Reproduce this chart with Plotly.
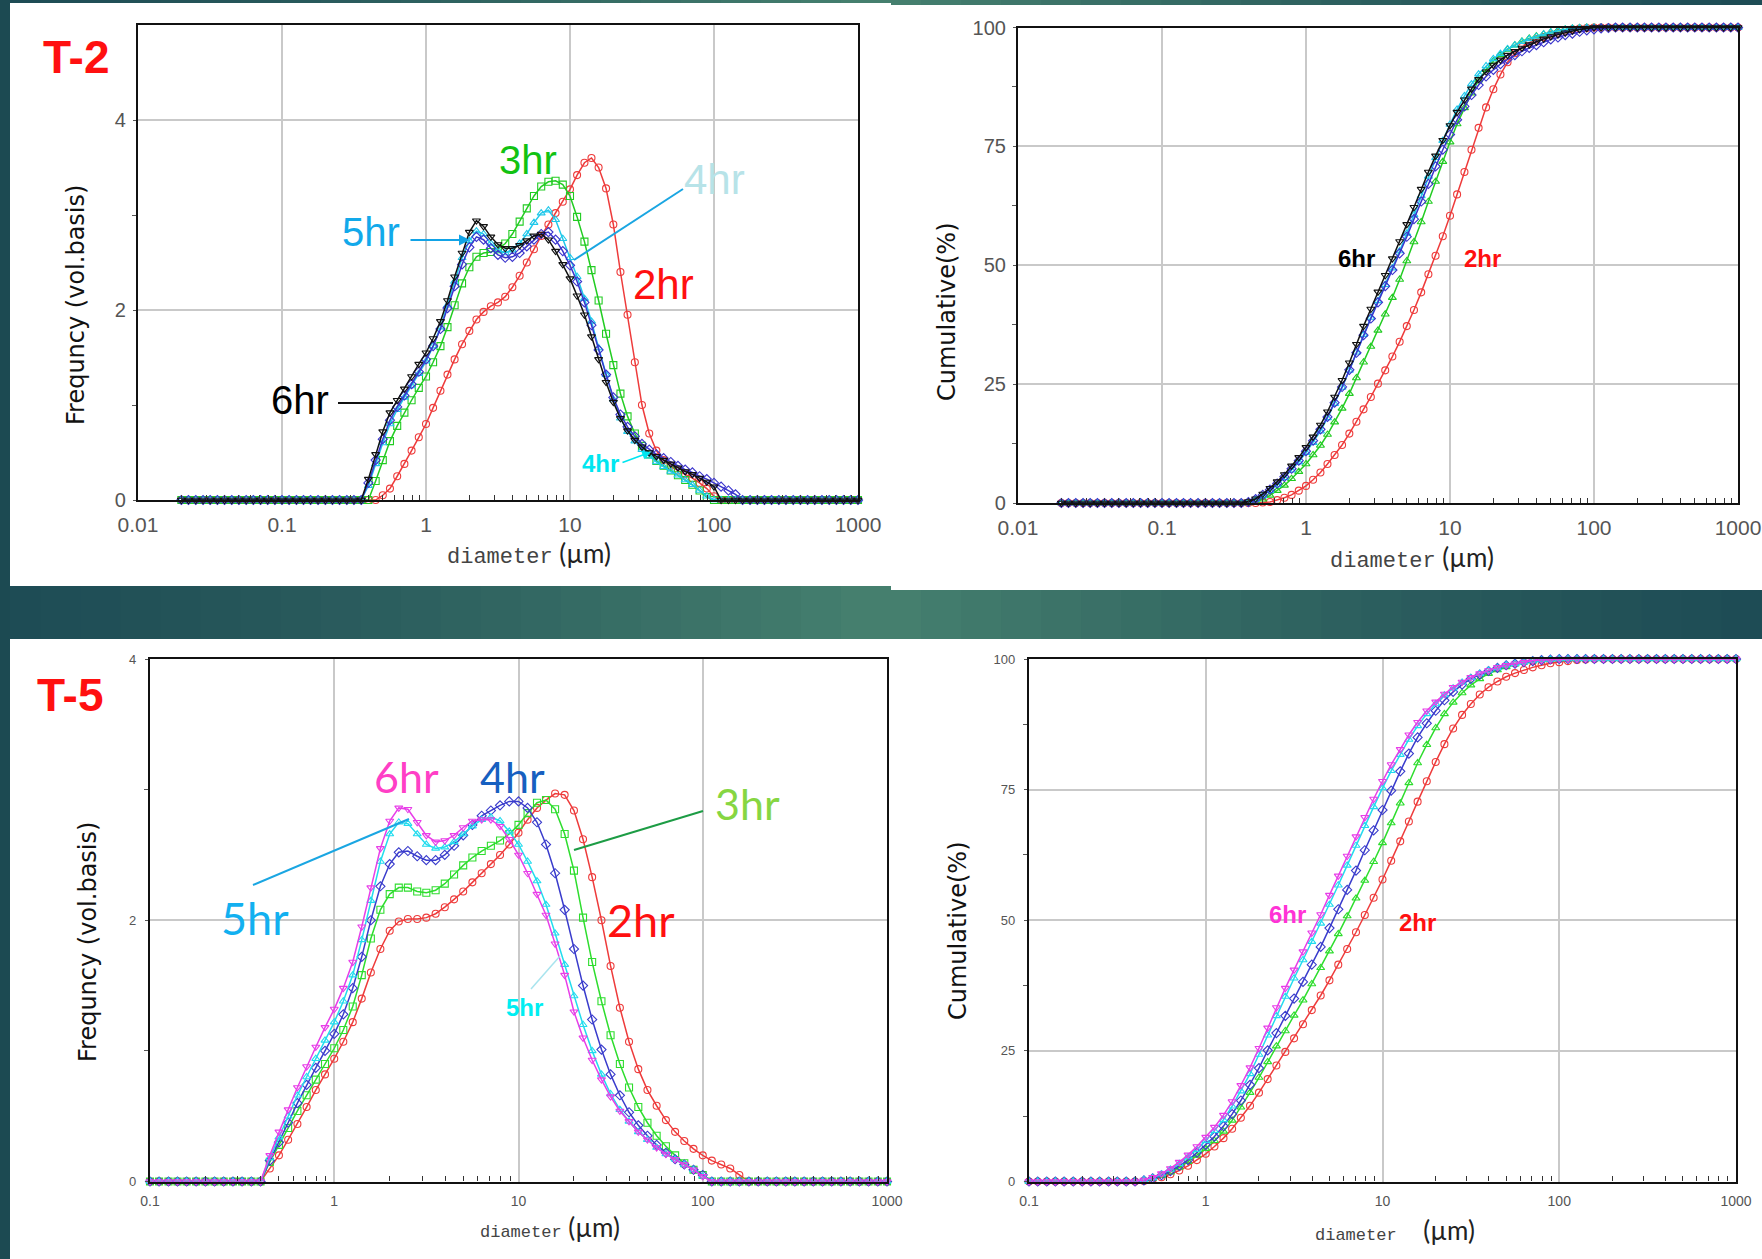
import plotly.graph_objects as go

W, H = 1762, 1259

# ---------------- data ----------------
DIAMETER = [0.02, 0.0224, 0.0252, 0.0283, 0.0317, 0.0356, 0.0399, 0.0448, 0.0502, 0.0564,
            0.0632, 0.0710, 0.0796, 0.0893, 0.1, 0.112, 0.126, 0.141, 0.158, 0.178,
            0.2, 0.224, 0.251, 0.282, 0.316, 0.355, 0.398, 0.447, 0.501, 0.562,
            0.631, 0.708, 0.794, 0.891, 1.0, 1.12, 1.26, 1.41, 1.58, 1.78,
            2.0, 2.24, 2.51, 2.82, 3.16, 3.55, 3.98, 4.47, 5.01, 5.62,
            6.31, 7.08, 7.94, 8.91, 10.0, 11.2, 12.6, 14.1, 15.8, 17.8,
            20.0, 22.4, 25.1, 28.2, 31.6, 35.5, 39.8, 44.7, 50.1, 56.2,
            63.1, 70.8, 79.4, 89.1, 100, 112, 126, 141, 158, 178,
            200, 224, 251, 282, 316, 355, 398, 447, 501, 562,
            631, 708, 794, 891, 1000]
N = len(DIAMETER)

HOURS = ["2hr", "3hr", "4hr", "5hr", "6hr"]

# T-2 frequency: first non-zero channel index + non-zero values
T2_FREQ_2HR_START = 28
T2_FREQ_2HR = [0.05, 0.12, 0.25, 0.38, 0.52, 0.66, 0.8, 0.97, 1.15, 1.32, 1.48, 1.64, 1.78, 1.9, 1.98, 2.04,
               2.08, 2.14, 2.24, 2.36, 2.5, 2.64, 2.78, 2.9, 3.02, 3.14, 3.27, 3.42, 3.55, 3.6, 3.5, 3.28,
               2.9, 2.4, 1.95, 1.45, 1.0, 0.7, 0.52, 0.42, 0.36, 0.31, 0.27, 0.23, 0.18, 0.12, 0.04]
T2_FREQ_3HR_START = 27
T2_FREQ_3HR = [0.2, 0.42, 0.62, 0.78, 0.92, 1.05, 1.18, 1.3, 1.45, 1.62, 1.82, 2.05, 2.28, 2.45, 2.56, 2.6,
               2.61, 2.64, 2.7, 2.8, 2.93, 3.07, 3.2, 3.3, 3.35, 3.36, 3.32, 3.2, 2.98, 2.72, 2.42, 2.1,
               1.75, 1.42, 1.12, 0.88, 0.7, 0.57, 0.48, 0.41, 0.36, 0.31, 0.26, 0.21, 0.16, 0.1, 0.03]
T2_FREQ_4HR_START = 26
T2_FREQ_4HR = [0.15, 0.38, 0.6, 0.8, 0.95, 1.08, 1.2, 1.33, 1.46, 1.62, 1.82, 2.05, 2.3, 2.55, 2.73, 2.83,
               2.8, 2.7, 2.63, 2.6, 2.63, 2.7, 2.8, 2.92, 3.02, 3.05, 2.95, 2.75, 2.55, 2.35, 2.12, 1.88,
               1.6, 1.32, 1.06, 0.86, 0.72, 0.62, 0.53, 0.46, 0.4, 0.35, 0.3, 0.26, 0.21, 0.16, 0.1, 0.04]
T2_FREQ_5HR_START = 26
T2_FREQ_5HR = [0.18, 0.42, 0.64, 0.84, 0.98, 1.1, 1.22, 1.35, 1.48, 1.62, 1.8, 2.02, 2.25, 2.48, 2.66, 2.77,
               2.74, 2.65, 2.58, 2.55, 2.56, 2.6, 2.67, 2.74, 2.8, 2.82, 2.74, 2.62, 2.47, 2.3, 2.08, 1.84,
               1.58, 1.32, 1.08, 0.9, 0.77, 0.67, 0.59, 0.53, 0.48, 0.44, 0.4, 0.36, 0.32, 0.29, 0.25, 0.22,
               0.18, 0.14, 0.1, 0.06]
T2_FREQ_6HR_START = 26
T2_FREQ_6HR = [0.22, 0.48, 0.72, 0.92, 1.05, 1.17, 1.3, 1.43, 1.55, 1.7, 1.88, 2.1, 2.35, 2.6, 2.82, 2.94,
               2.88, 2.77, 2.69, 2.65, 2.65, 2.68, 2.73, 2.78, 2.8, 2.74, 2.62, 2.48, 2.33, 2.15, 1.95, 1.72,
               1.48, 1.24, 1.03, 0.86, 0.73, 0.63, 0.56, 0.5, 0.46, 0.42, 0.38, 0.34, 0.3, 0.27, 0.23, 0.19, 0.14]

# T-2 cumulative (%): first rising channel index + values until 100
T2_CUM_2HR_START = 28
T2_CUM_2HR = [0.1, 0.2, 0.6, 1.1, 1.7, 2.6, 3.6, 4.9, 6.4, 8.2, 10.1, 12.2, 14.6, 17.1, 19.7, 22.3,
              25.1, 27.9, 30.8, 33.9, 37.2, 40.6, 44.3, 48.1, 52.0, 56.1, 60.4, 64.9, 69.6, 74.3, 78.9, 83.2,
              87.0, 90.1, 92.7, 94.6, 95.9, 96.8, 97.5, 98.0, 98.5, 98.9, 99.3, 99.6, 99.8, 99.9]
T2_CUM_3HR_START = 27
T2_CUM_3HR = [0.3, 0.8, 1.6, 2.6, 3.7, 5.1, 6.6, 8.2, 10.1, 12.1, 14.4, 17.0, 19.9, 23.0, 26.3, 29.6,
              32.9, 36.3, 39.7, 43.2, 47.0, 50.9, 54.9, 59.1, 63.4, 67.6, 71.8, 75.9, 79.7, 83.1, 86.2, 88.9,
              91.1, 92.9, 94.3, 95.4, 96.3, 97.1, 97.7, 98.2, 98.6, 99.0, 99.4, 99.6, 99.8, 99.9]
T2_CUM_4HR_START = 26
T2_CUM_4HR = [0.2, 0.7, 1.5, 2.6, 3.8, 5.3, 6.9, 8.6, 10.6, 12.7, 15.1, 17.9, 20.9, 24.3, 27.9, 31.7,
              35.4, 39.0, 42.5, 45.9, 49.4, 53.0, 56.7, 60.6, 64.6, 68.7, 72.6, 76.2, 79.6, 82.8, 85.6, 88.1,
              90.2, 91.9, 93.4, 94.5, 95.5, 96.3, 97.0, 97.6, 98.1, 98.6, 99.0, 99.3, 99.6, 99.8, 99.9]
T2_CUM_5HR_START = 26
T2_CUM_5HR = [0.2, 0.8, 1.7, 2.8, 4.1, 5.5, 7.2, 8.9, 10.9, 13.1, 15.5, 18.1, 21.1, 24.4, 28.0, 31.6,
              35.3, 38.8, 42.2, 45.6, 49.0, 52.5, 56.0, 59.7, 63.4, 67.1, 70.8, 74.3, 77.5, 80.6, 83.4, 85.8,
              87.9, 89.7, 91.1, 92.3, 93.3, 94.2, 95.0, 95.7, 96.3, 96.9, 97.5, 97.9, 98.4, 98.7, 99.1, 99.4,
              99.6, 99.8, 99.9]
T2_CUM_6HR_START = 26
T2_CUM_6HR = [0.3, 0.9, 1.9, 3.1, 4.5, 6.0, 7.8, 9.6, 11.7, 13.9, 16.4, 19.2, 22.3, 25.8, 29.5, 33.4,
              37.2, 40.8, 44.4, 47.9, 51.4, 55.0, 58.6, 62.2, 66.0, 69.6, 73.0, 76.3, 79.4, 82.2, 84.8, 87.1,
              89.1, 90.7, 92.1, 93.2, 94.2, 95.0, 95.7, 96.4, 97.0, 97.6, 98.1, 98.5, 98.9, 99.3, 99.6, 99.8]

# T-5 frequency
T5_FREQ_2HR_START = 27
T5_FREQ_2HR = [0.1, 0.2, 0.32, 0.44, 0.57, 0.7, 0.82, 0.94, 1.07, 1.22, 1.4, 1.6, 1.78, 1.92, 1.99, 2.01,
               2.01, 2.02, 2.05, 2.1, 2.16, 2.22, 2.29, 2.36, 2.43, 2.5, 2.58, 2.67, 2.77, 2.86, 2.92, 2.97,
               2.96, 2.84, 2.62, 2.33, 2.0, 1.65, 1.33, 1.07, 0.86, 0.7, 0.58, 0.47, 0.38, 0.31, 0.25, 0.2,
               0.16, 0.13, 0.1, 0.05]
T5_FREQ_3HR_START = 27
T5_FREQ_3HR = [0.15, 0.28, 0.41, 0.54, 0.66, 0.78, 0.9, 1.02, 1.16, 1.34, 1.58, 1.86, 2.08, 2.2, 2.25, 2.25,
               2.22, 2.21, 2.23, 2.28, 2.35, 2.42, 2.48, 2.53, 2.57, 2.61, 2.66, 2.73, 2.82, 2.9, 2.92, 2.85,
               2.66, 2.38, 2.02, 1.68, 1.38, 1.12, 0.9, 0.72, 0.57, 0.45, 0.35, 0.27, 0.2, 0.14, 0.09, 0.05]
T5_FREQ_4HR_START = 27
T5_FREQ_4HR = [0.16, 0.3, 0.45, 0.6, 0.74, 0.87, 1.0, 1.13, 1.28, 1.48, 1.72, 2.0, 2.26, 2.43, 2.52, 2.53,
               2.49, 2.46, 2.46, 2.5, 2.57, 2.65, 2.73, 2.8, 2.84, 2.88, 2.91, 2.91, 2.86, 2.75, 2.58, 2.36,
               2.08, 1.78, 1.5, 1.24, 1.01, 0.82, 0.66, 0.53, 0.43, 0.35, 0.28, 0.22, 0.17, 0.13, 0.09, 0.05]
T5_FREQ_5HR_START = 27
T5_FREQ_5HR = [0.18, 0.34, 0.5, 0.66, 0.8, 0.94, 1.08, 1.22, 1.38, 1.58, 1.85, 2.15, 2.45, 2.66, 2.75, 2.74,
               2.66, 2.58, 2.55, 2.56, 2.6, 2.66, 2.72, 2.77, 2.79, 2.76, 2.68, 2.58, 2.45, 2.3, 2.12, 1.9,
               1.66, 1.42, 1.2, 1.0, 0.82, 0.67, 0.55, 0.46, 0.38, 0.32, 0.26, 0.21, 0.17, 0.13, 0.09, 0.04]
T5_FREQ_6HR_START = 27
T5_FREQ_6HR = [0.2, 0.38, 0.55, 0.72, 0.88, 1.03, 1.18, 1.32, 1.48, 1.68, 1.95, 2.25, 2.55, 2.76, 2.86, 2.85,
               2.75, 2.65, 2.6, 2.61, 2.65, 2.71, 2.76, 2.77, 2.77, 2.72, 2.62, 2.5, 2.36, 2.2, 2.04, 1.82,
               1.58, 1.3, 1.1, 0.93, 0.78, 0.65, 0.54, 0.46, 0.38, 0.32, 0.26, 0.21, 0.17, 0.13, 0.09, 0.04]

# T-5 cumulative (%)
T5_CUM_2HR_START = 27
T5_CUM_2HR = [0.1, 0.4, 0.8, 1.4, 2.1, 3.0, 4.1, 5.3, 6.7, 8.3, 10.1, 12.2, 14.5, 17.0, 19.6, 22.2,
              24.8, 27.4, 30.1, 32.8, 35.6, 38.5, 41.5, 44.5, 47.7, 51.0, 54.3, 57.8, 61.4, 65.1, 68.9, 72.7,
              76.6, 80.3, 83.7, 86.7, 89.3, 91.4, 93.2, 94.6, 95.7, 96.6, 97.3, 97.9, 98.4, 98.8, 99.2, 99.4,
              99.6, 99.8, 99.9]
T5_CUM_3HR_START = 27
T5_CUM_3HR = [0.2, 0.6, 1.1, 1.8, 2.7, 3.8, 5.0, 6.3, 7.8, 9.6, 11.7, 14.2, 17.0, 19.9, 22.9, 25.9,
              28.8, 31.8, 34.7, 37.8, 40.9, 44.1, 47.4, 50.8, 54.2, 57.6, 61.2, 64.8, 68.6, 72.4, 76.3, 80.1,
              83.6, 86.8, 89.5, 91.7, 93.5, 95.0, 96.2, 97.2, 97.9, 98.5, 99.0, 99.4, 99.6, 99.8, 99.9]
T5_CUM_4HR_START = 27
T5_CUM_4HR = [0.2, 0.6, 1.2, 2.0, 3.0, 4.1, 5.5, 7.0, 8.6, 10.6, 12.9, 15.5, 18.5, 21.7, 25.1, 28.4,
              31.7, 35.0, 38.2, 41.5, 44.9, 48.5, 52.1, 55.8, 59.5, 63.4, 67.2, 71.1, 74.8, 78.5, 81.9, 85.0,
              87.7, 90.1, 92.1, 93.7, 95.1, 96.2, 97.0, 97.7, 98.3, 98.8, 99.1, 99.4, 99.6, 99.8, 99.9]
T5_CUM_5HR_START = 27
T5_CUM_5HR = [0.3, 0.7, 1.4, 2.3, 3.4, 4.7, 6.1, 7.8, 9.7, 11.8, 14.4, 17.3, 20.6, 24.3, 28.0, 31.7,
              35.4, 38.9, 42.4, 45.9, 49.4, 53.0, 56.7, 60.5, 64.3, 68.1, 71.7, 75.3, 78.6, 81.7, 84.6, 87.2,
              89.5, 91.4, 93.1, 94.4, 95.5, 96.4, 97.2, 97.8, 98.3, 98.8, 99.1, 99.4, 99.7, 99.8, 99.9]
T5_CUM_6HR_START = 27
T5_CUM_6HR = [0.3, 0.8, 1.5, 2.5, 3.7, 5.1, 6.7, 8.5, 10.4, 12.7, 15.3, 18.4, 21.8, 25.5, 29.4, 33.3,
              37.0, 40.5, 44.0, 47.6, 51.1, 54.8, 58.5, 62.3, 66.0, 69.7, 73.2, 76.6, 79.8, 82.7, 85.5, 87.9,
              90.1, 91.8, 93.3, 94.6, 95.6, 96.5, 97.2, 97.8, 98.4, 98.8, 99.1, 99.4, 99.7, 99.8, 99.9]

X_TICKS_TOP = [0.01, 0.1, 1, 10, 100, 1000]
X_TICKTEXT_TOP = ["0.01", "0.1", "1", "10", "100", "1000"]
X_TICKS_BOTTOM = [0.1, 1, 10, 100, 1000]
X_TICKTEXT_BOTTOM = ["0.1", "1", "10", "100", "1000"]
FREQ_TICKS = [0, 2, 4]
CUM_TICKS = [0, 25, 50, 75, 100]

# ---------------- styling ----------------
T2_COLORS = ["#ee3b3b", "#22cc22", "#1fc8ea", "#3a34cc", "#111111"]
T5_COLORS = ["#ee3b3b", "#2edd2e", "#3a3ccc", "#22dcee", "#e83ee8"]
T2_FREQ_SYM = ["circle-open", "square-open", "triangle-up-open", "diamond-open", "triangle-down-open"]
T2_CUM_SYM = ["circle-open", "triangle-up-open", "triangle-up-open", "diamond-open", "triangle-down-open"]
T5_FREQ_SYM = ["circle-open", "square-open", "diamond-open", "triangle-up-open", "triangle-down-open"]
T5_CUM_SYM = ["circle-open", "triangle-up-open", "diamond-open", "triangle-up-open", "triangle-down-open"]

SANS = "Liberation Sans, Arial, sans-serif"
NARROW = "Liberation Sans Narrow, Liberation Sans, Arial, sans-serif"
ROUND = "Lato, Open Sans, sans-serif"
WIDE = "DejaVu Sans, Verdana, sans-serif"
MONO = "Liberation Mono, DejaVu Sans Mono, monospace"
GRID = "#c9c9c9"


def full_freq(start, seg):
    return [0.0] * start + seg + [0.0] * (N - start - len(seg))


def full_cum(start, seg):
    return [0.0] * start + seg + [100.0] * (N - start - len(seg))


t2_freq = [full_freq(T2_FREQ_2HR_START, T2_FREQ_2HR), full_freq(T2_FREQ_3HR_START, T2_FREQ_3HR),
           full_freq(T2_FREQ_4HR_START, T2_FREQ_4HR), full_freq(T2_FREQ_5HR_START, T2_FREQ_5HR),
           full_freq(T2_FREQ_6HR_START, T2_FREQ_6HR)]
t2_cum = [full_cum(T2_CUM_2HR_START, T2_CUM_2HR), full_cum(T2_CUM_3HR_START, T2_CUM_3HR),
          full_cum(T2_CUM_4HR_START, T2_CUM_4HR), full_cum(T2_CUM_5HR_START, T2_CUM_5HR),
          full_cum(T2_CUM_6HR_START, T2_CUM_6HR)]
t5_freq = [full_freq(T5_FREQ_2HR_START, T5_FREQ_2HR), full_freq(T5_FREQ_3HR_START, T5_FREQ_3HR),
           full_freq(T5_FREQ_4HR_START, T5_FREQ_4HR), full_freq(T5_FREQ_5HR_START, T5_FREQ_5HR),
           full_freq(T5_FREQ_6HR_START, T5_FREQ_6HR)]
t5_cum = [full_cum(T5_CUM_2HR_START, T5_CUM_2HR), full_cum(T5_CUM_3HR_START, T5_CUM_3HR),
          full_cum(T5_CUM_4HR_START, T5_CUM_4HR), full_cum(T5_CUM_5HR_START, T5_CUM_5HR),
          full_cum(T5_CUM_6HR_START, T5_CUM_6HR)]

# bottom charts start at 0.1 um
B0 = DIAMETER.index(0.1)

fig = go.Figure()


def add_series(xs, ys, colors, symbols, xa, ya):
    for name, y, c, s in zip(HOURS, ys, colors, symbols):
        fig.add_trace(go.Scatter(
            x=xs, y=y, name=name, xaxis=xa, yaxis=ya, mode="lines+markers",
            line=dict(color=c, width=1.5),
            marker=dict(symbol=s, size=7, color=c, line=dict(color=c, width=1.1)),
            cliponaxis=False, showlegend=False, hoverinfo="skip"))


add_series(DIAMETER, t2_freq, T2_COLORS, T2_FREQ_SYM, "x", "y")
add_series(DIAMETER, t2_cum, T2_COLORS, T2_CUM_SYM, "x2", "y2")
add_series(DIAMETER[B0:], [s[B0:] for s in t5_freq], T5_COLORS, T5_FREQ_SYM, "x3", "y3")
add_series(DIAMETER[B0:], [s[B0:] for s in t5_cum], T5_COLORS, T5_CUM_SYM, "x4", "y4")


def minor_vals(decades):
    return [d * m for d in decades for m in range(2, 10)]


def xaxis(left, right, anchor, rng, tickvals, ticktext, fsize, standoff):
    return dict(type="log", domain=[left / W, right / W], anchor=anchor, range=rng,
                tickmode="array", tickvals=tickvals, ticktext=ticktext,
                showgrid=True, gridcolor=GRID, gridwidth=1.5,
                showline=True, linecolor="#111", linewidth=2.2, mirror=True,
                ticks="", zeroline=False, ticklabelstandoff=standoff, automargin=False,
                tickfont=dict(family=NARROW, size=fsize, color="#555"),
                minor=dict(tickmode="array", tickvals=minor_vals(tickvals[:-1]), ticks="inside",
                           ticklen=5, tickwidth=1, tickcolor="#333", showgrid=False))


def yaxis(top, bottom, anchor, rng, tickvals, minors, fsize, standoff):
    return dict(domain=[1 - bottom / H, 1 - top / H], anchor=anchor, range=rng,
                tickmode="array", tickvals=tickvals, ticktext=[str(v) for v in tickvals],
                showgrid=True, gridcolor=GRID, gridwidth=1.5,
                showline=True, linecolor="#111", linewidth=2.2, mirror=True,
                ticks="outside", ticklen=3, tickcolor="#555", zeroline=False,
                ticklabelstandoff=standoff, automargin=False,
                tickfont=dict(family=NARROW, size=fsize, color="#555"),
                minor=dict(tickmode="array", tickvals=minors, ticks="outside", ticklen=4,
                           tickwidth=1, tickcolor="#555", showgrid=False))


fig.update_layout(
    xaxis=xaxis(138, 858, "y", [-2, 3], X_TICKS_TOP, X_TICKTEXT_TOP, 21, 5),
    yaxis=yaxis(25, 500, "x", [0, 5], FREQ_TICKS, [1, 3], 20, 3),
    xaxis2=xaxis(1018, 1738, "y2", [-2, 3], X_TICKS_TOP, X_TICKTEXT_TOP, 21, 5),
    yaxis2=yaxis(27.5, 503, "x2", [0, 100], CUM_TICKS, [12.5, 37.5, 62.5, 87.5], 20, 3),
    xaxis3=xaxis(150, 887, "y3", [-1, 3], X_TICKS_BOTTOM, X_TICKTEXT_BOTTOM, 14, 6),
    yaxis3=yaxis(659, 1181.5, "x3", [0, 4], FREQ_TICKS, [1, 3], 13, 6),
    xaxis4=xaxis(1029, 1736, "y4", [-1, 3], X_TICKS_BOTTOM, X_TICKTEXT_BOTTOM, 14, 6),
    yaxis4=yaxis(659, 1181.5, "x4", [0, 100], CUM_TICKS, [12.5, 37.5, 62.5, 87.5], 13, 6),
)


# ---------------- background: dark teal with gradient band ----------------
def rect(x0, y0, x1, y1, color, layer="below"):
    return dict(type="rect", xref="paper", yref="paper", x0=x0 / W, x1=x1 / W,
                y0=1 - y1 / H, y1=1 - y0 / H, fillcolor=color, line=dict(width=0), layer=layer)


def line(x0, y0, x1, y1, color, width=1.8):
    return dict(type="line", xref="paper", yref="paper", x0=x0 / W, x1=x1 / W,
                y0=1 - y0 / H, y1=1 - y1 / H, line=dict(color=color, width=width), layer="above")


def mix(c1, c2, t):
    a = [int(c1[i:i + 2], 16) for i in (1, 3, 5)]
    b = [int(c2[i:i + 2], 16) for i in (1, 3, 5)]
    return "#" + "".join(f"{round(p + (q - p) * t):02x}" for p, q in zip(a, b))


shapes = []
EDGE, MID = "#1e4c55", "#46816f"
n_strips = 44
for i in range(n_strips):
    x0 = i * W / n_strips
    cx = (i + 0.5) / n_strips
    t = max(0.0, 1 - abs(cx - 0.5) / 0.5)
    shapes.append(rect(x0, 0, x0 + W / n_strips + 1, H, mix(EDGE, MID, t ** 1.3)))
shapes.append(rect(0, 0, 10, H, "#1c4a52"))
shapes.append(rect(10, 3, 891, 586, "white"))
shapes.append(rect(891, 5, W, 590, "white"))
shapes.append(rect(10, 639, W, H, "white"))

# pointer lines
shapes.append(line(338, 403, 393, 403, "#111111", 2))            # 6hr (T-2)
shapes.append(line(683, 189, 574, 260, "#1aa6e2", 2))             # 4hr (T-2)
shapes.append(line(703, 811, 574, 850, "#1d9c45", 2))             # 3hr (T-5)
shapes.append(line(253, 885, 409, 819, "#1aa6e2", 2))             # 5hr (T-5)
shapes.append(line(531, 989, 560, 956, "#a8e4ee", 1.5))           # small 5hr (T-5)
fig.update_layout(shapes=shapes)


# ---------------- text ----------------
def lab(text, x, y, size, color, family=SANS, bold=False, angle=0):
    return dict(text=f"<b>{text}</b>" if bold else text, x=x / W, y=1 - y / H,
                xref="paper", yref="paper", showarrow=False, textangle=angle,
                font=dict(family=family, size=size, color=color),
                xanchor="center", yanchor="middle")


def arrow(x_tip, y_tip, x_tail, y_tail, color, width=2):
    return dict(text="", x=x_tip / W, y=1 - y_tip / H, xref="paper", yref="paper",
                ax=x_tail - x_tip, ay=y_tail - y_tip, axref="pixel", ayref="pixel",
                showarrow=True, arrowhead=2, arrowsize=1.1, arrowwidth=width, arrowcolor=color)


def xtitle(x, y, small, gap=""):
    return dict(
        text=(f"<span style='font-family:{MONO};font-size:{small}px;color:#444'>diameter</span>"
              f"<span style='font-family:{ROUND};font-size:26px;color:#222'>{gap} (µm)</span>"),
        x=x / W, y=1 - y / H, xref="paper", yref="paper", showarrow=False,
        xanchor="center", yanchor="middle", font=dict(family=ROUND, size=26, color="#222"))


annotations = [
    # panel names
    lab("T-2", 76, 57, 46, "#ff1010", SANS, True),
    lab("T-5", 70, 695, 46, "#ff1010", SANS, True),
    # axis titles
    lab("Frequncy (vol.basis)", 76, 305, 24, "#111", WIDE, angle=-90),
    lab("Cumulative(%)", 947, 312, 24, "#111", WIDE, angle=-90),
    lab("Frequncy (vol.basis)", 88, 942, 24, "#111", WIDE, angle=-90),
    lab("Cumulative(%)", 958, 930, 24, "#111", WIDE, angle=-90),
    xtitle(529, 553, 22),
    xtitle(1412, 557, 22),
    xtitle(550, 1227, 17),
    xtitle(1395, 1230, 17, "&nbsp;&nbsp;&nbsp;"),
    # T-2 frequency labels
    lab("3hr", 528, 160, 40, "#12c212"),
    lab("4hr", 714, 180, 42, "#b7e3e8"),
    lab("5hr", 371, 232, 40, "#12a9ea"),
    lab("2hr", 663, 285, 42, "#ff1010"),
    lab("6hr", 300, 400, 40, "#000000"),
    lab("4hr", 600, 463, 24, "#00e6f0", SANS, True),
    arrow(470, 240, 409, 240, "#12a3e6", 2),
    arrow(651, 452, 621, 463, "#00e6f0", 1.6),
    # T-2 cumulative labels
    lab("6hr", 1356, 259, 24, "#000000", SANS, True),
    lab("2hr", 1482, 259, 24, "#ff1010", SANS, True),
    # T-5 frequency labels
    lab("6hr", 406, 776, 43, "#ff3fc6", ROUND),
    lab("4hr", 512, 776, 43, "#1760c0", ROUND),
    lab("3hr", 747, 803, 43, "#86d642", ROUND),
    lab("5hr", 255, 918, 45, "#12b0f0", ROUND),
    lab("2hr", 641, 920, 45, "#ff1010", ROUND),
    lab("5hr", 524, 1007, 24, "#00eef2", SANS, True),
    # T-5 cumulative labels
    lab("6hr", 1287, 915, 24, "#ff33d6", SANS, True),
    lab("2hr", 1417, 922, 24, "#ff1010", SANS, True),
]

fig.update_layout(
    annotations=annotations,
    width=W, height=H,
    autosize=False,
    margin=dict(l=0, r=0, t=0, b=0, pad=0, autoexpand=False),
    paper_bgcolor="#1e4c55",
    plot_bgcolor="white",
    showlegend=False,
    hovermode=False,
)

fig.write_html(
    "out.html",
    config={"displayModeBar": False},
    post_script="document.body.style.margin='0px';document.body.style.overflow='hidden';",
)
